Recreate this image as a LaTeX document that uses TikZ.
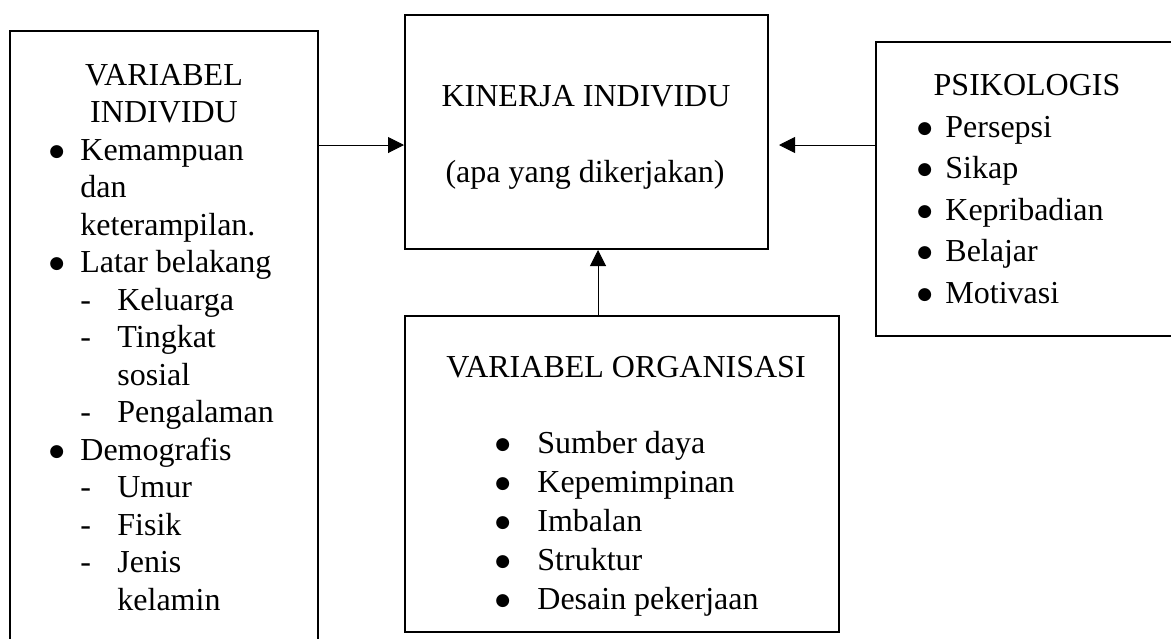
\documentclass[tikz,border=0pt]{standalone}
\usepackage{fontspec}
\setmainfont{Liberation Serif}
\newfontfamily\symfont{DejaVu Sans}
\usetikzlibrary{arrows.meta}
\usetikzlibrary{positioning}

\newcommand{\bul}[1][15.5pt]{\makebox[#1][l]{\raisebox{2pt}{\symfont\fontsize{8.5pt}{8.5pt}\selectfont ●}}}
\newcommand{\dsh}{\makebox[18.5pt][l]{-}}

\tikzset{
  box/.style={draw, line width=1pt, rectangle, inner sep=0pt},
  conn/.style={line width=0.5pt, -{Triangle[length=8pt, width=8pt]}},
  txt/.style={anchor=base west, inner sep=0pt, font=\fontsize{16pt}{18pt}\selectfont},
  head/.style={anchor=base, inner sep=0pt, font=\fontsize{16pt}{18pt}\selectfont}
}

\begin{document}
\begin{tikzpicture}[x=0.5pt, y=-0.5pt]
      \useasboundingbox (0, 0) rectangle (1171, 638);
      \fill [white] (0, 0) rectangle (1171, 638);

      % boxes
      \node [box, minimum width=154pt, minimum height=314.5pt] (indiv) at (164, 345.5) {};
      \node [box, minimum width=181.5pt, minimum height=117pt] (kinerja) at (586.5, 132) {};
      \node [box, minimum width=162pt, minimum height=147pt] (psiko) at (1038, 189) {};
      \node [box, minimum width=217pt, minimum height=158pt] (organisasi) at (622, 474) {};

      % connectors
      \draw [conn] ([yshift=-6.5pt]indiv.east |- kinerja.west) -- ([yshift=-6.5pt]kinerja.west);
      \draw [conn] ([yshift=-6.5pt]psiko.west |- kinerja.east) -- ([xshift=5pt, yshift=-6.5pt]kinerja.east);
      \draw [conn] ([xshift=5.75pt]kinerja.south |- organisasi.north) -- ([xshift=5.75pt]kinerja.south);

      % variabel individu
      \node [head] (indivA) at (164, 85) {VARIABEL};
      \node [head] (indivB) at (164, 122.5) {INDIVIDU};
      \foreach \x/\y/\t [count=\i] in {49/160/{\bul Kemampuan}, 80/197.5/{dan}, 80/235/{keterampilan.},
          49/272.5/{\bul Latar belakang}, 80/310/{\dsh Keluarga}, 80/347.5/{\dsh Tingkat},
          117/385/{sosial}, 80/422.5/{\dsh Pengalaman}, 49/460/{\bul Demografis},
          80/497.5/{\dsh Umur}, 80/535/{\dsh Fisik}, 80/572.5/{\dsh Jenis}, 117/610/{kelamin}}
        \node [txt] (indiv\i) at (\x, \y) {\t};

      % kinerja individu
      \node [head] (kinerjaA) at (586, 106) {KINERJA INDIVIDU};
      \node [head] (kinerjaB) at (585, 182) {(apa yang dikerjakan)};

      % psikologis
      \node [head] (psikoA) at (1027, 95) {PSIKOLOGIS};
      \foreach \t [count=\i from 0] in {Persepsi, Sikap, Kepribadian, Belajar, Motivasi}
        \node [txt] (psiko\i) at (917, {137 + 41.5*\i}) {\bul[14pt]\t};

      % variabel organisasi
      \node [head] (organisasiA) at (626, 377) {VARIABEL ORGANISASI};
      \foreach \t [count=\i from 0] in {Sumber daya, Kepemimpinan, Imbalan, Struktur, Desain pekerjaan}
        \node [txt] (organisasi\i) at (495, {453 + 39*\i}) {\bul[21pt]\t};
    \end{tikzpicture}
\end{document}
